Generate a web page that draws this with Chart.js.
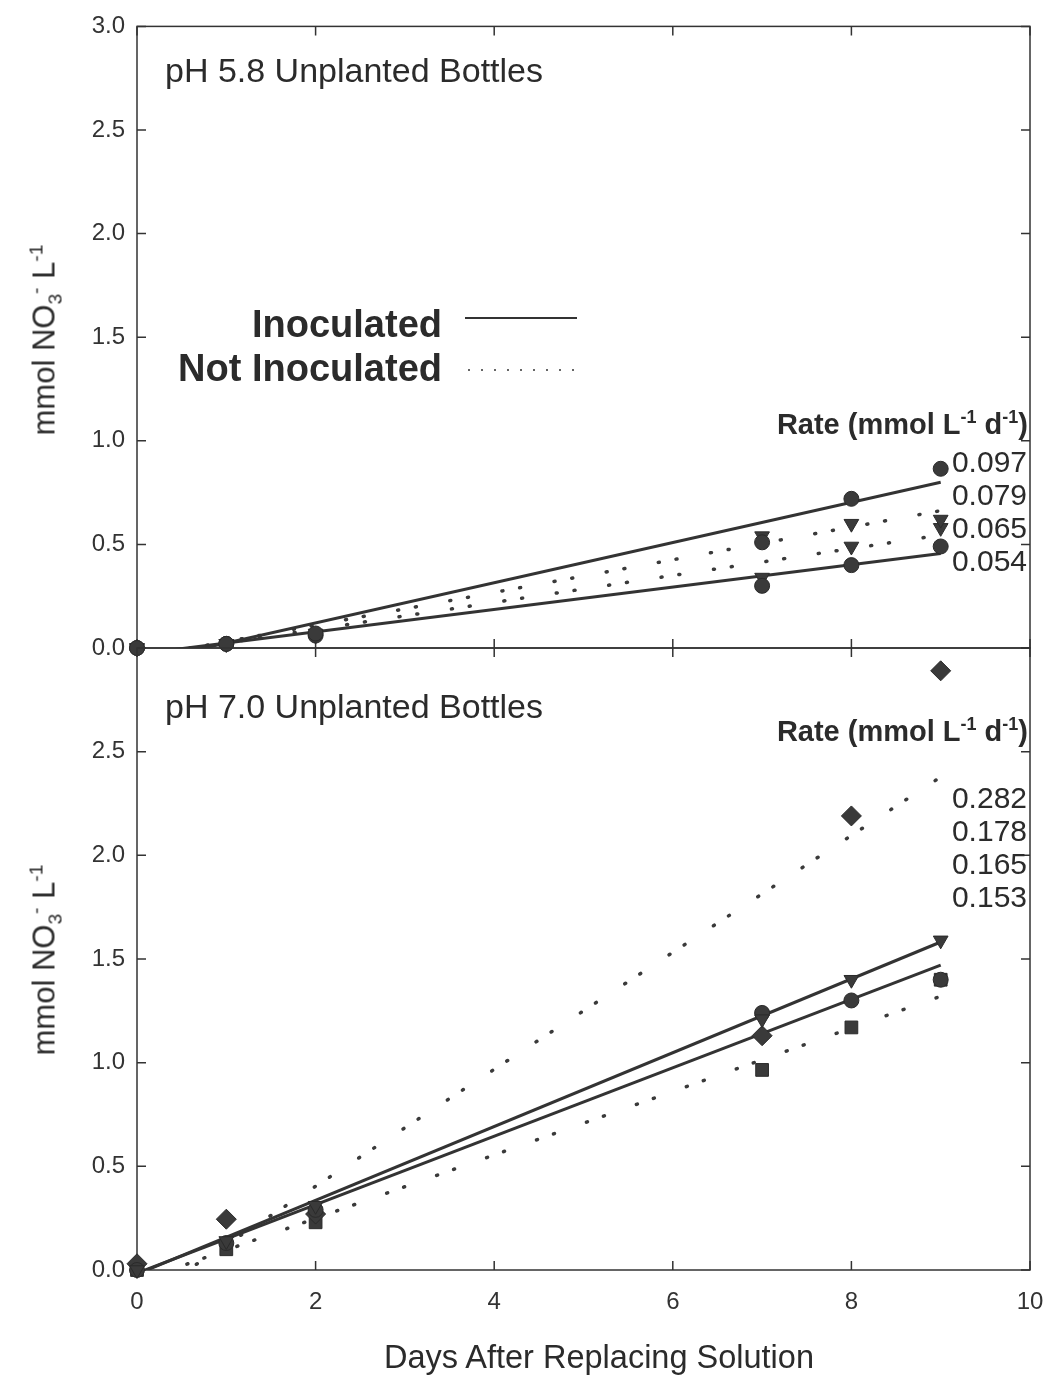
<!DOCTYPE html>
<html>
<head>
<meta charset="utf-8">
<script src="https://cdn.jsdelivr.net/npm/chart.js@4.4.1/dist/chart.umd.min.js"></script>
<style>
  html, body { margin: 0; padding: 0; background: #fff; }
  #fig { position: relative; width: 1049px; height: 1376px; overflow: hidden;
         font-family: "Liberation Sans", Arial, sans-serif; color: #2b2b2b; }
  #fig canvas { position: absolute; left: 0; }
  .txt { position: absolute; white-space: nowrap; line-height: 1; }
  .ytitle { font-size: 31px; transform: translate(-50%, -50%) rotate(-90deg); }
  .ptitle { font-size: 34px; left: 165px; }
  .legend { font-size: 38px; font-weight: bold; right: 607px; text-align: right; }
  .rateHead { font-size: 29px; font-weight: bold; right: 21px; }
  .rates { font-size: 30px; line-height: 33px; right: 22px; text-align: right; }
  .xtitle { font-size: 32.5px; left: 599px; transform: translateX(-50%); }
  .sup { font-size: 0.62em; position: relative; top: -0.6em; }
  .sub { font-size: 0.62em; position: relative; top: 0.35em; }
  .sample { position: absolute; height: 2px; }
</style>
</head>
<body>
<div id="fig">
  <canvas id="top" width="1049" height="680" style="top:0"></canvas>
  <canvas id="bottom" width="1049" height="756" style="top:620px"></canvas>

  <div class="txt ytitle" style="left:44px; top:340px">mmol NO<span class="sub">3</span><span class="sup">-</span> L<span class="sup">-1</span></div>
  <div class="txt ytitle" style="left:44px; top:960px">mmol NO<span class="sub">3</span><span class="sup">-</span> L<span class="sup">-1</span></div>

  <div class="txt ptitle" style="top:53px">pH 5.8 Unplanted Bottles</div>
  <div class="txt ptitle" style="top:689px">pH 7.0 Unplanted Bottles</div>

  <div class="txt legend" style="top:305px">Inoculated</div>
  <div class="txt legend" style="top:349px">Not Inoculated</div>
  <div class="sample" style="left:465px; top:317px; width:112px; background:#333"></div>
  <div class="sample" style="left:468px; top:369px; width:106px;
       background:repeating-linear-gradient(90deg, #666 0 2px, transparent 2px 13px)"></div>

  <div class="txt rateHead" style="top:410px">Rate (mmol L<span class="sup">-1</span> d<span class="sup">-1</span>)</div>
  <div class="txt rateHead" style="top:717px">Rate (mmol L<span class="sup">-1</span> d<span class="sup">-1</span>)</div>
  <div class="txt rates" id="rates58" style="top:445px"></div>
  <div class="txt rates" id="rates70" style="top:781px"></div>

  <div class="txt xtitle" style="top:1341px">Days After Replacing Solution</div>
</div>

<script>
const days = [0, 1, 2, 7, 8, 9]

// pH 5.8 panel
const ph58InocHigh = [0, 0.02, 0.07, 0.51, 0.72, 0.865]
const ph58InocLow = [0, 0.02, 0.06, 0.30, 0.40, 0.49]
const ph58NotHigh = [0, 0.02, 0.07, 0.54, 0.60, 0.62]
const ph58NotLow = [0, 0.02, 0.06, 0.34, 0.49, 0.58]
const ph58Rates = ['0.097', '0.079', '0.065', '0.054']
// [slope, intercept] of the fitted lines
const ph58InocFits = [[0.097, -0.073], [0.054, -0.03]]
const ph58NotFits = [[0.079, -0.048], [0.065, -0.04]]

// pH 7.0 panel
const ph70InocTri = [0, 0.14, 0.31, 1.21, 1.40, 1.59]
const ph70InocCirc = [0, 0.13, 0.29, 1.24, 1.30, 1.40]
const ph70NotDiam = [0.03, 0.245, 0.27, 1.13, 2.19, 2.89]
const ph70NotSq = [0, 0.10, 0.23, 0.965, 1.17, 1.40]
const ph70Rates = ['0.282', '0.178', '0.165', '0.153']
const ph70InocFits = [[0.178, -0.02], [0.165, -0.015]]
const ph70NotFits = [[0.282, -0.16], [0.153, -0.057]]

const fitDays = [0, 9]
const yTicks = [0, 0.5, 1, 1.5, 2, 2.5, 3]
const xTicks = [0, 2, 4, 6, 8, 10]

document.getElementById('rates58').innerHTML = ph58Rates.join('<br>')
document.getElementById('rates70').innerHTML = ph70Rates.join('<br>')

const ink = '#333'
const font = 'Liberation Sans, Arial, sans-serif'

const points = (ys, style, radius, rotation) => ({
  data: days.map((d, i) => ({x: d, y: ys[i]})),
  pointStyle: style,
  pointRadius: radius,
  rotation: rotation || 0,
  backgroundColor: '#3a3a3a',
  borderColor: '#2a2a2a',
  borderWidth: 1,
  showLine: false,
  clip: false
})

const fitLine = ([m, b], dotted) => ({
  data: fitDays.map(d => ({x: d, y: m * d + b})),
  showLine: true,
  pointRadius: 0,
  borderColor: dotted ? '#3a3a3a' : ink,
  borderWidth: dotted ? 3.5 : 3,
  borderDash: dotted ? [1, 17, 1, 34] : [],
  borderCapStyle: dotted ? 'round' : 'butt'
})

// frame with inward ticks on all four sides
const framePlugin = {
  id: 'frame',
  beforeDatasetsDraw(chart) {
    const {ctx, chartArea: {left, top, right, bottom}, scales: {x, y}} = chart
    const len = 9
    ctx.save()
    ctx.strokeStyle = ink
    ctx.lineWidth = 1.5
    ctx.strokeRect(left, top, right - left, bottom - top)
    ctx.beginPath()
    yTicks.forEach(v => {
      const py = y.getPixelForValue(v)
      ctx.moveTo(left, py); ctx.lineTo(left + len, py)
      ctx.moveTo(right, py); ctx.lineTo(right - len, py)
    })
    xTicks.forEach(v => {
      const px = x.getPixelForValue(v)
      ctx.moveTo(px, top); ctx.lineTo(px, top + len)
      ctx.moveTo(px, bottom); ctx.lineTo(px, bottom - len)
    })
    ctx.stroke()
    ctx.restore()
  }
}

const yAxis = (hideTop) => ({
  min: 0,
  max: 3,
  afterFit(scale) { scale.width = 137 },
  afterBuildTicks(scale) { scale.ticks = yTicks.map(v => ({value: v})) },
  grid: {display: false, drawTicks: false},
  border: {display: false},
  ticks: {
    padding: 12,
    color: ink,
    font: {family: font, size: 24},
    callback: v => (hideTop && v === 3) ? '' : v.toFixed(1)
  }
})

const baseOptions = {
  responsive: false,
  animation: false,
  devicePixelRatio: 1,
  plugins: {legend: {display: false}, tooltip: {enabled: false}}
}

new Chart(document.getElementById('top'), {
  type: 'scatter',
  data: {
    datasets: [
      points(ph58InocHigh, 'circle', 7.5),
      points(ph58InocLow, 'circle', 7.5),
      points(ph58NotHigh, 'triangle', 8.5, 180),
      points(ph58NotLow, 'triangle', 8.5, 180),
      fitLine(ph58InocFits[0], false),
      fitLine(ph58InocFits[1], false),
      fitLine(ph58NotFits[0], true),
      fitLine(ph58NotFits[1], true)
    ]
  },
  options: {
    ...baseOptions,
    layout: {padding: {top: 23, right: 19, bottom: 32, left: 0}},
    scales: {
      x: {type: 'linear', min: 0, max: 10, display: false},
      y: yAxis(false)
    }
  },
  plugins: [framePlugin]
})

new Chart(document.getElementById('bottom'), {
  type: 'scatter',
  data: {
    datasets: [
      points(ph70InocTri, 'triangle', 8.5, 180),
      points(ph70InocCirc, 'circle', 7.5),
      points(ph70NotDiam, 'rectRot', 10),
      points(ph70NotSq, 'rect', 9),
      fitLine(ph70InocFits[0], false),
      fitLine(ph70InocFits[1], false),
      fitLine(ph70NotFits[0], true),
      fitLine(ph70NotFits[1], true)
    ]
  },
  options: {
    ...baseOptions,
    layout: {padding: {top: 28, right: 19, bottom: 0, left: 0}},
    scales: {
      x: {
        type: 'linear',
        min: 0,
        max: 10,
        afterFit(scale) {
          scale.height = 106
          scale.paddingLeft = 0
          scale.paddingRight = 0
        },
        afterBuildTicks(scale) { scale.ticks = xTicks.map(v => ({value: v})) },
        grid: {display: false, drawTicks: false},
        border: {display: false},
        ticks: {padding: 18, color: ink, font: {family: font, size: 24}}
      },
      y: yAxis(true)
    }
  },
  plugins: [framePlugin]
})
</script>
</body>
</html>
